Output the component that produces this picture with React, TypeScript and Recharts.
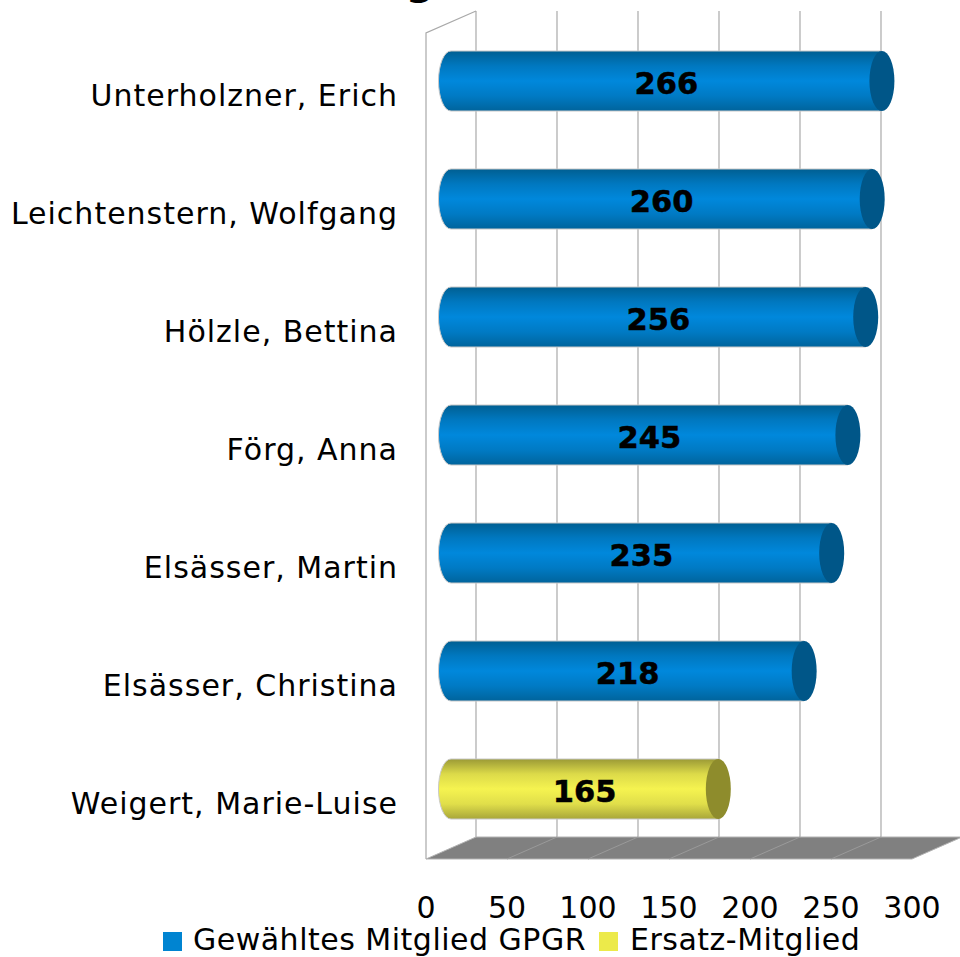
import React from 'react';
import { BarChart, Bar, XAxis, YAxis, CartesianGrid, Legend, LabelList, ReferenceArea, ReferenceLine } from 'recharts';

const names = ['Unterholzner, Erich', 'Leichtenstern, Wolfgang', 'Hölzle, Bettina', 'Förg, Anna', 'Elsässer, Martin', 'Elsässer, Christina', 'Weigert, Marie-Luise'];
const elected = [266, 260, 256, 245, 235, 218, null];
const substitute = [null, null, null, null, null, null, 165];
const xTicks = [0, 50, 100, 150, 200, 250, 300];
const seriesNames = ['Gewähltes Mitglied GPGR', 'Ersatz-Mitglied'];
const croppedTitle = 'g';
const data = names.map((name, i) => ({ name, elected: elected[i], substitute: substitute[i] }));

const FONT = '"DejaVu Sans", Verdana, sans-serif';
const DX = 25, DY = -11; // half depth of the 3D box
const GRID = '#a9a9a9';

const cylinder = (grad: string, cap: string) => (p: any) => {
  const { x, y, width, height } = p;
  if (!width || width <= 0) return null;
  const left = x + DX, right = x + width + DX, top = y + DY, bottom = y + height + DY, rx = 12.5, ry = height / 2;
  return (
    <g>
      <path d={`M${left},${top} L${right},${top} L${right},${bottom} L${left},${bottom} A${rx},${ry} 0 0 1 ${left},${top} Z`} fill={`url(#${grad})`} stroke="#c8c8c8" strokeWidth={1} />
      <ellipse cx={right} cy={(top + bottom) / 2} rx={rx} ry={ry} fill={cap} />
    </g>
  );
};

const valueLabel = (p: any) => {
  const { x, y, width, height, value } = p;
  if (value == null) return null;
  return <text x={x + width / 2 + DX} y={y + height / 2 + DY + 2} textAnchor="middle" dominantBaseline="central" fontFamily={FONT} fontWeight="bold" fontSize={30.5} stroke="#000" strokeWidth={0.5} fill="#000">{value}</text>;
};

const gridLine = (p: any) => {
  const { x1, y1, y2, index } = p;
  return (
    <g>
      <line x1={x1 + 2 * DX} x2={x1 + 2 * DX} y1={y1 + 2 * DY} y2={y2 + 2 * DY} stroke={GRID} strokeWidth={1.2} />
      {index === 0 && <path d={`M${x1},${y2} L${x1},${y1} L${x1 + 2 * DX},${y1 + 2 * DY}`} fill="none" stroke={GRID} strokeWidth={1.2} />}
    </g>
  );
};

const floor = (p: any) => {
  const { x, y, width, height } = p;
  const b = y + height;
  return (
    <g>
      <text x={420} y={-6} textAnchor="middle" fontFamily={FONT} fontWeight="bold" fontSize={40} fill="#000">{croppedTitle}</text>
      <path d={`M${x},${b} L${x + 2 * DX},${b + 2 * DY} L${x + width + 2 * DX},${b + 2 * DY} L${x + width},${b} Z`} fill="#808080" stroke="#b3b3b3" strokeWidth={1} />
    </g>
  );
};

const floorDivider = (p: any) => {
  const x = p.viewBox?.x ?? 0, y = p.viewBox?.y ?? 0, h = p.viewBox?.height ?? 0;
  return <line x1={x} y1={y + h} x2={x + 2 * DX} y2={y + h + 2 * DY} stroke="#9a9a9a" strokeWidth={1} />;
};

const legendBox = () => (
  <div style={{ position: 'relative', width: 960, height: 30, fontFamily: FONT, fontSize: 30, letterSpacing: 0.5, color: '#000', lineHeight: '30px', whiteSpace: 'nowrap' }}>
    <span style={{ position: 'absolute', left: 163, top: 5, width: 19, height: 19, background: '#0084d1' }} />
    <span style={{ position: 'absolute', left: 193, top: -2 }}>{seriesNames[0]}</span>
    <span style={{ position: 'absolute', left: 599, top: 5, width: 19, height: 19, background: '#ecea4a' }} />
    <span style={{ position: 'absolute', left: 630, top: -2 }}>{seriesNames[1]}</span>
  </div>
);

export default function App() {
  return (
    <div style={{ position: 'absolute', left: 0, top: 0, width: 960, height: 957, overflow: 'hidden' }}>
      <BarChart width={960} height={957} data={data} layout="vertical" margin={{ top: 33, right: 48, bottom: 0, left: 0 }} barSize={60}>
        <defs>
          <linearGradient id="blueGrad" x1="0" y1="0" x2="0" y2="1">
            <stop offset="0" stopColor="#005f92" />
            <stop offset="0.25" stopColor="#0078c0" />
            <stop offset="0.5" stopColor="#0088dc" />
            <stop offset="0.75" stopColor="#007ac4" />
            <stop offset="1" stopColor="#00649c" />
          </linearGradient>
          <linearGradient id="yellowGrad" x1="0" y1="0" x2="0" y2="1">
            <stop offset="0" stopColor="#9b9a36" />
            <stop offset="0.25" stopColor="#dcda49" />
            <stop offset="0.5" stopColor="#f5f350" />
            <stop offset="0.75" stopColor="#e0de4a" />
            <stop offset="1" stopColor="#a8a63a" />
          </linearGradient>
        </defs>
        <CartesianGrid horizontal={false} vertical={gridLine as any} />
        <ReferenceArea x1={0} x2={300} ifOverflow="visible" shape={floor as any} />
        {xTicks.slice(1, -1).map((t) => <ReferenceLine key={t} x={t} ifOverflow="visible" stroke="none" label={floorDivider as any} />)}
        <XAxis type="number" domain={[0, 300]} ticks={xTicks} axisLine={false} tickLine={false} height={68} tickMargin={32} tick={{ fontFamily: FONT, fontSize: 30, fill: '#000' }} />
        <YAxis type="category" dataKey="name" width={426} axisLine={false} tickLine={false} tickMargin={22} interval={0} tick={{ fontFamily: FONT, fontSize: 30, letterSpacing: 1, fill: '#000', dy: 3 }} />
        <Bar dataKey="elected" name={seriesNames[0]} stackId="a" fill="#0084d1" isAnimationActive={false} shape={cylinder('blueGrad', '#005688') as any}>
          <LabelList dataKey="elected" content={valueLabel as any} />
        </Bar>
        <Bar dataKey="substitute" name={seriesNames[1]} stackId="a" fill="#ecea4a" isAnimationActive={false} shape={cylinder('yellowGrad', '#8e8c2c') as any}>
          <LabelList dataKey="substitute" content={valueLabel as any} />
        </Bar>
        <Legend verticalAlign="bottom" height={30} content={legendBox as any} />
      </BarChart>
    </div>
  );
}
